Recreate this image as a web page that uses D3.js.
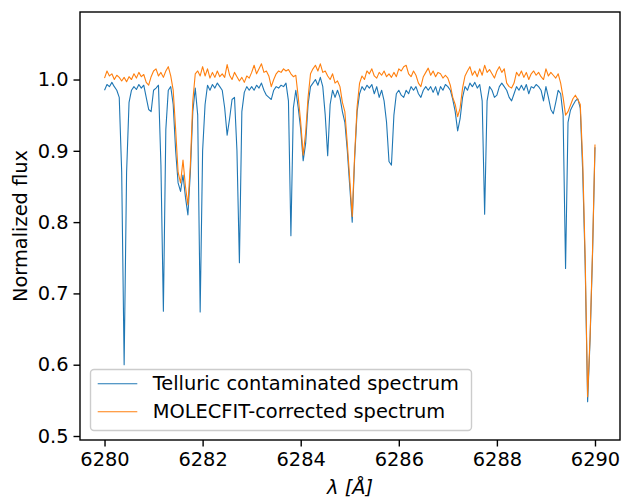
<!DOCTYPE html>
<html>
<head>
<meta charset="utf-8">
<script src="https://cdn.jsdelivr.net/npm/d3@7"></script>
<style>
  html, body { margin: 0; padding: 0; background: #fff; }
  svg { display: block; }
  text { font-family: "DejaVu Sans", sans-serif; }
</style>
</head>
<body>
<svg id="chart" width="622" height="500"></svg>
<script>
// Wavelength sampling of the spectrum (Angstrom)
const lambdaStart = 6280.0;
const lambdaStep = 0.05;

// Telluric contaminated spectrum (blue), one value per sample
const telluricFlux = [
  0.985, 0.993, 0.990, 0.996, 0.990, 0.985, 0.975, 0.870, 0.600, 0.870,
  0.968, 0.985, 0.990, 0.986, 0.993, 0.988, 0.992, 0.975, 0.958, 0.955,
  0.985, 0.988, 0.992, 0.880, 0.675, 0.930, 0.985, 0.990, 0.965, 0.900,
  0.855, 0.843, 0.866, 0.835, 0.810, 0.870, 0.955, 0.988, 0.950, 0.674,
  0.900, 0.965, 0.992, 0.985, 0.993, 0.988, 0.995, 0.990, 0.985, 0.960,
  0.922, 0.945, 0.972, 0.975, 0.900, 0.743, 0.955, 0.982, 0.990, 0.985,
  0.990, 0.985, 0.992, 0.988, 0.995, 0.985, 0.978, 0.975, 0.972, 0.985,
  0.990, 0.988, 0.992, 0.990, 0.995, 0.970, 0.781, 0.960, 0.985, 0.960,
  0.930, 0.886, 0.910, 0.965, 0.990, 0.995, 1.000, 0.992, 1.003, 0.990,
  0.950, 0.893, 0.965, 0.985, 0.975, 0.985, 0.975, 0.955, 0.940, 0.900,
  0.850, 0.800, 0.890, 0.955, 0.980, 0.990, 0.985, 0.992, 0.988, 0.993,
  0.980, 0.990, 0.975, 0.985, 0.970, 0.940, 0.885, 0.880, 0.950, 0.980,
  0.985, 0.978, 0.975, 0.985, 0.980, 0.990, 0.985, 0.990, 0.980, 0.975,
  0.985, 0.990, 0.985, 0.990, 0.982, 0.990, 0.978, 0.990, 0.985, 0.993,
  0.990, 0.985, 0.972, 0.955, 0.928, 0.945, 0.975, 0.990, 0.985, 0.995,
  0.990, 0.996, 0.988, 0.993, 0.970, 0.811, 0.970, 0.990, 0.985, 0.975,
  0.978, 0.990, 0.995, 0.990, 0.985, 0.975, 0.970, 0.980, 0.990, 0.985,
  0.992, 0.985, 0.993, 0.980, 0.990, 0.988, 0.993, 0.990, 0.985, 0.970,
  0.990, 0.975, 0.958, 0.952, 0.968, 0.985, 0.980, 0.950, 0.735, 0.940,
  0.957, 0.964, 0.970, 0.973, 0.960, 0.870, 0.740, 0.548, 0.635, 0.755,
  0.905
];

// MOLECFIT-corrected spectrum (orange), one value per sample
const correctedFlux = [
  1.002, 1.012, 1.005, 1.008, 1.000, 1.006, 1.003, 0.998, 1.003, 0.997,
  1.004, 1.000, 1.008, 1.002, 1.010, 1.004, 1.007, 0.996, 0.992, 1.004,
  1.012, 1.015, 1.005, 1.010, 1.003, 1.012, 1.018, 1.005, 0.985, 0.930,
  0.870, 0.855, 0.887, 0.850, 0.824, 0.880, 0.970, 1.008, 1.012, 1.005,
  1.018, 1.005, 1.015, 1.002, 1.010, 1.003, 1.012, 1.004, 1.008, 1.003,
  1.021, 1.006, 1.000, 1.010, 1.004, 0.998, 1.003, 0.996, 1.005, 1.002,
  1.010, 1.020, 1.008, 1.015, 1.022, 1.010, 1.012, 1.005, 0.990, 1.000,
  1.008, 1.012, 1.010, 1.015, 1.012, 1.014, 1.008, 1.004, 1.006, 0.975,
  0.940, 0.894, 0.925, 0.975, 1.008, 1.015, 1.020, 1.012, 1.022, 1.010,
  1.012, 1.005, 1.000, 1.008, 0.995, 0.998, 0.990, 0.968, 0.955, 0.910,
  0.860, 0.808, 0.895, 0.962, 0.995, 1.005, 1.000, 1.012, 1.008, 1.015,
  1.005, 1.002, 1.010, 1.006, 1.012, 1.004, 1.008, 1.003, 1.010, 1.004,
  1.015, 1.012, 1.018, 1.020, 1.008, 1.004, 1.012, 1.006, 0.995, 0.990,
  1.004, 1.010, 1.016, 1.006, 1.012, 1.004, 1.010, 1.008, 1.002, 1.006,
  1.002, 0.992, 0.975, 0.965, 0.948, 0.960, 0.988, 1.005, 1.012, 1.018,
  1.006, 1.012, 1.004, 1.015, 1.006, 1.020, 1.010, 1.014, 1.008, 1.002,
  1.012, 1.018, 1.010, 1.015, 0.995, 0.990, 0.988, 0.995, 1.010, 1.005,
  1.012, 1.003, 1.010, 1.000, 1.008, 1.012, 1.006, 1.010, 1.004, 1.000,
  1.015, 1.005, 1.010, 1.006, 1.002, 1.008, 0.995, 0.975, 0.950, 0.955,
  0.964, 0.973, 0.978, 0.972, 0.965, 0.885, 0.750, 0.555, 0.640, 0.760,
  0.909
];

const xTicks = [6280, 6282, 6284, 6286, 6288, 6290];
const yTicks = [0.5, 0.6, 0.7, 0.8, 0.9, 1.0];
const seriesNames = ["Telluric contaminated spectrum", "MOLECFIT-corrected spectrum"];
const seriesColors = ["#1f77b4", "#ff7f0e"];

const wavelength = telluricFlux.map((_, i) => lambdaStart + i * lambdaStep);

const FS = "19.4px";
const svg = d3.select("#chart");
const plot = { left: 80, right: 620, top: 12, bottom: 440 };

const x = d3.scaleLinear().domain([6279.5, 6290.51]).range([plot.left, plot.right]);
const y = d3.scaleLinear().domain([0.4944, 1.0947]).range([plot.bottom, plot.top]);

svg.append("defs").append("clipPath").attr("id", "clip")
  .append("rect").attr("x", plot.left).attr("y", plot.top)
  .attr("width", plot.right - plot.left).attr("height", plot.bottom - plot.top);

const line = d3.line().x((d, i) => x(wavelength[i])).y(d => y(d));

const g = svg.append("g").attr("clip-path", "url(#clip)");
[telluricFlux, correctedFlux].forEach((s, k) => {
  g.append("path").datum(s)
    .attr("d", line)
    .attr("fill", "none")
    .attr("stroke", seriesColors[k])
    .attr("stroke-width", 1.1)
    .attr("stroke-linejoin", "round");
});

// Axes
const xAxis = d3.axisBottom(x).tickValues(xTicks).tickFormat(d3.format("d"))
  .tickSize(6.5).tickPadding(6);
const yAxis = d3.axisLeft(y).tickValues(yTicks).tickFormat(d3.format(".1f"))
  .tickSize(6.5).tickPadding(5);

const gx = svg.append("g").attr("transform", `translate(0,${plot.bottom})`).call(xAxis);
const gy = svg.append("g").attr("transform", `translate(${plot.left},0)`).call(yAxis);
[gx, gy].forEach(a => {
  a.attr("font-size", null).attr("font-family", null);
  a.select(".domain").remove();
  a.selectAll(".tick line").attr("stroke", "#000").attr("stroke-width", 1.4);
  a.selectAll(".tick text").attr("fill", "#000")
    .style("font-family", "'DejaVu Sans', sans-serif").style("font-size", FS);
});

// Frame
svg.append("rect")
  .attr("x", plot.left).attr("y", plot.top)
  .attr("width", plot.right - plot.left).attr("height", plot.bottom - plot.top)
  .attr("fill", "none").attr("stroke", "#000").attr("stroke-width", 1.4);

// Axis labels
const xl = svg.append("text")
  .attr("x", (plot.left + plot.right) / 2).attr("y", 494)
  .attr("text-anchor", "middle").style("font-size", FS).attr("fill", "#000");
xl.append("tspan").style("font-style", "italic").text("λ");
xl.append("tspan").text(" ");
xl.append("tspan").style("font-style", "italic").text("[Å]");

svg.append("text")
  .attr("transform", `translate(27,${(plot.top + plot.bottom) / 2}) rotate(-90)`)
  .attr("text-anchor", "middle").style("font-size", FS).attr("fill", "#000")
  .text("Normalized flux");

// Legend
const leg = svg.append("g");
leg.append("rect")
  .attr("x", 90.5).attr("y", 369.5).attr("width", 381).attr("height", 61)
  .attr("rx", 3.5).attr("ry", 3.5)
  .attr("fill", "#fff").attr("fill-opacity", 0.8)
  .attr("stroke", "#cccccc").attr("stroke-width", 1.4);
seriesNames.forEach((name, k) => {
  const yy = 383.7 + k * 28;
  leg.append("line").attr("x1", 97.7).attr("x2", 137.3).attr("y1", yy).attr("y2", yy)
    .attr("stroke", seriesColors[k]).attr("stroke-width", 1.1);
  leg.append("text").attr("x", 152.7).attr("y", yy).attr("dy", "0.35em")
    .style("font-size", FS).attr("fill", "#000").text(name);
});
</script>
</body>
</html>
